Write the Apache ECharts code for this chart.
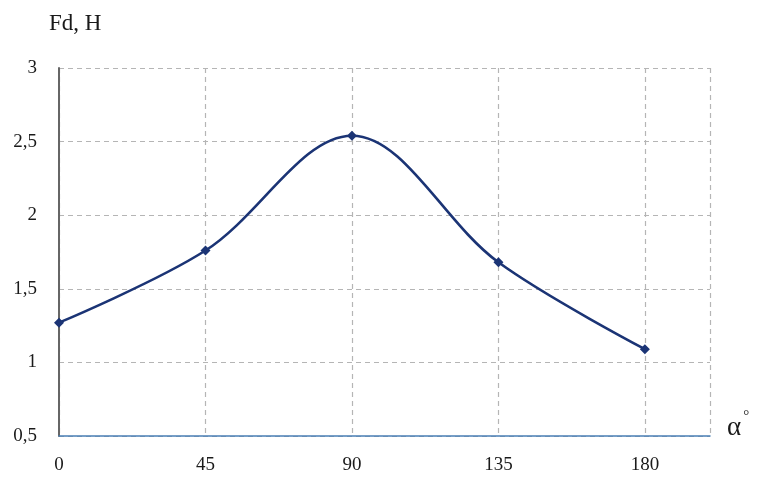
<!DOCTYPE html>
<html>
<head>
<meta charset="utf-8">
<script src="https://cdn.jsdelivr.net/npm/echarts@6/dist/echarts.min.js"></script>
<style>
html,body{margin:0;padding:0;background:#fff;}
#c{width:776px;height:477px;}
</style>
</head>
<body>
<div id="c"></div>
<script>
const angles = [0, 45, 90, 135, 180];
const force = [1.27, 1.76, 2.54, 1.68, 1.09];
const xTicks = [0, 45, 90, 135, 180];
const yTicks = [0.5, 1, 1.5, 2, 2.5, 3];

const chart = echarts.init(document.getElementById('c'));
const serif = '"Liberation Serif", "DejaVu Serif", serif';
chart.setOption({
  animation: false,
  backgroundColor: '#fff',
  grid: { left: 59, right: 66, top: 68, bottom: 41 },
  title: {
    text: 'Fd, H', left: 44, top: 7,
    textStyle: { fontFamily: serif, fontSize: 23, fontWeight: 'normal', color: '#1a1a1a' }
  },
  xAxis: {
    type: 'value', min: 0, max: 200, interval: 45,
    name: '{a|α}{d|°}', nameLocation: 'end', nameGap: 17,
    nameTextStyle: {
      rich: {
        a: { fontFamily: serif, fontSize: 27, color: '#1a1a1a', verticalAlign: 'bottom' },
        d: { fontFamily: serif, fontSize: 15, color: '#1a1a1a', verticalAlign: 'top', padding: [0, 0, 18, 2] }
      },
      padding: [0, 0, 22, 0]
    },
    axisLine: { show: true, onZero: false, lineStyle: { color: '#4a7fb5', width: 1.5 } },
    axisTick: { show: false },
    axisLabel: {
      margin: 20, fontFamily: serif, fontSize: 19, color: '#1a1a1a',
      showMaxLabel: false,
      formatter: v => xTicks.includes(v) ? String(v) : ''
    },
    splitLine: { show: true, lineStyle: { color: '#b5b5b5', type: [5, 4], width: 1.2 } }
  },
  yAxis: {
    type: 'value', min: 0.5, max: 3, interval: 0.5,
    axisLine: { show: true, lineStyle: { color: '#666', width: 2 } },
    axisTick: { show: false },
    axisLabel: {
      margin: 22, fontFamily: serif, fontSize: 19, color: '#1a1a1a',
      formatter: v => yTicks.includes(v) ? String(v).replace('.', ',') : ''
    },
    splitLine: { show: true, lineStyle: { color: '#b5b5b5', type: [5, 4], width: 1.2 } }
  },
  series: [{
    type: 'line',
    data: angles.map((a, i) => [a, force[i]]),
    smooth: 0.35,
    symbol: 'diamond', symbolSize: 10,
    lineStyle: { color: '#1b3475', width: 2.6 },
    itemStyle: { color: '#1b3475' }
  }]
});
</script>
</body>
</html>
